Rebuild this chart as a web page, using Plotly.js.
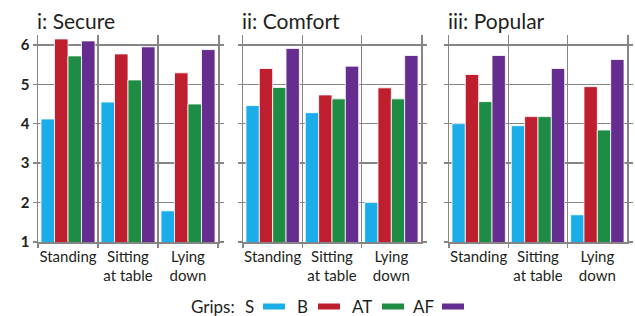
<!DOCTYPE html>
<html><head><meta charset="utf-8">
<script src="https://cdn.plot.ly/plotly-3.0.1.min.js"></script>
<style>html,body{margin:0;padding:0;background:#fff;}#chart{width:635px;height:316px;}</style>
</head><body><div id="chart"></div>
<script>
// ---- data ----
const categories = ["Standing", "Sitting<br>at table", "Lying<br>down"];
const grips = ["S", "B", "AT", "AF"];
const gripColors = ["#1BADE9", "#BE1E2D", "#1E8C45", "#652D90"];
const panelTitles = ["i: Secure", "ii: Comfort", "iii: Popular"];
const yTicks = [1, 2, 3, 4, 5, 6];

const secureS  = [4.12, 4.55, 1.79];
const secureB  = [6.15, 5.77, 5.29];
const secureAT = [5.72, 5.11, 4.50];
const secureAF = [6.10, 5.95, 5.88];

const comfortS  = [4.46, 4.28, 2.00];
const comfortB  = [5.40, 4.73, 4.91];
const comfortAT = [4.92, 4.63, 4.63];
const comfortAF = [5.91, 5.46, 5.73];

const popularS  = [4.00, 3.95, 1.69];
const popularB  = [5.25, 4.18, 4.94];
const popularAT = [4.56, 4.18, 3.84];
const popularAF = [5.73, 5.40, 5.63];

const panelData = [
  [secureS, secureB, secureAT, secureAF],
  [comfortS, comfortB, comfortAT, comfortAF],
  [popularS, popularB, popularAT, popularAF]
];

// ---- layout helpers ----
const W = 635, H = 316;
const plotTop = 35, plotBottom = 242;
const panelPx = [[38, 218], [243, 421], [449, 627]];
const px2x = px => px / W;
const px2y = py => (plotBottom - py) / (plotBottom - plotTop);

const FONT = "Lato, Open Sans, sans-serif";
const TXT = "#231f20";
const GRID = "#858585";

const traces = [];
panelData.forEach((series, p) => {
  const sfx = p === 0 ? "" : String(p + 1);
  series.forEach((vals, g) => {
    traces.push({
      type: "bar", x: categories, y: vals, name: grips[g],
      xaxis: "x" + sfx, yaxis: "y" + sfx,
      marker: {color: gripColors[g], line: {color: "#ffffff", width: 0.8}},
      showlegend: false, hoverinfo: "skip"
    });
  });
});

const layout = {
  width: W, height: H,
  margin: {l: 0, r: 0, t: plotTop, b: H - plotBottom},
  paper_bgcolor: "#fff", plot_bgcolor: "#fff",
  barmode: "group", bargap: 0.1, bargroupgap: 0,
  font: {family: FONT, color: TXT},
  showlegend: false,
  annotations: [], shapes: []
};

panelPx.forEach((pp, p) => {
  const sfx = p === 0 ? "" : String(p + 1);
  layout["xaxis" + sfx] = {
    domain: [px2x(pp[0]), px2x(pp[1])], anchor: "y" + sfx,
    type: "category", range: [-0.5, 2.5], tickson: "boundaries",
    tickangle: 0,
    showgrid: true, gridcolor: GRID, gridwidth: 1.5,
    ticks: "outside", ticklen: 4, tickcolor: GRID, tickwidth: 1.5,
    showline: true, linecolor: GRID, linewidth: 1.5,
    tickfont: {family: FONT, size: 15, color: TXT},
    fixedrange: true
  };
  layout["yaxis" + sfx] = {
    domain: [0, 1], anchor: "x" + sfx,
    range: [1, 6.25], tickvals: yTicks, ticktext: yTicks.map(String),
    showticklabels: p === 0,
    showgrid: true, gridcolor: GRID, gridwidth: 1.5, zeroline: false,
    ticks: "outside", ticklen: 4, tickcolor: GRID, tickwidth: 1.5,
    showline: true, linecolor: GRID, linewidth: 1.5, mirror: "ticks",
    tickfont: {family: FONT, size: 15, color: TXT, weight: 700},
    fixedrange: true
  };
  layout.annotations.push({
    text: panelTitles[p], xref: "paper", yref: "paper",
    x: px2x(pp[0] - 3), y: px2y(21), xanchor: "left", yanchor: "middle",
    showarrow: false, font: {family: FONT, size: 21, color: TXT}
  });
});

// legend drawn as text + swatches, label before swatch
const legendY = 306;
layout.annotations.push({
  text: "Grips:", xref: "paper", yref: "paper", x: px2x(189), y: px2y(legendY),
  xanchor: "left", yanchor: "middle", showarrow: false,
  font: {family: FONT, size: 17, color: TXT}
});
const labelX = [243, 295, 350, 411];
const swatchX = [263, 318, 382, 442];
grips.forEach((g, i) => {
  layout.annotations.push({
    text: g, xref: "paper", yref: "paper", x: px2x(labelX[i]), y: px2y(legendY),
    xanchor: "left", yanchor: "middle", showarrow: false,
    font: {family: FONT, size: 17, color: TXT}
  });
  layout.shapes.push({
    type: "rect", xref: "paper", yref: "paper",
    x0: px2x(swatchX[i]), x1: px2x(swatchX[i] + 22),
    y0: px2y(legendY + 3.5), y1: px2y(legendY - 2.5),
    fillcolor: gripColors[i], line: {width: 0}
  });
});

Plotly.newPlot("chart", traces, layout, {displayModeBar: false, staticPlot: true});
</script></body></html>
